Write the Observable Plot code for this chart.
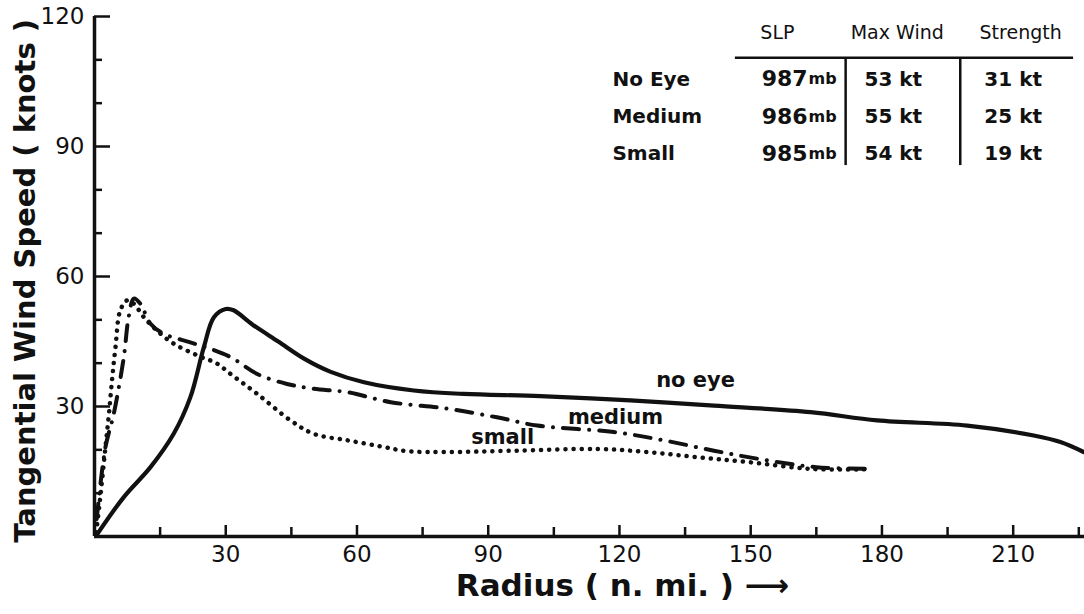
<!DOCTYPE html>
<html>
<head>
<meta charset="utf-8">
<script src="https://cdn.jsdelivr.net/npm/d3@7"></script>
<script src="https://cdn.jsdelivr.net/npm/@observablehq/plot@0.6"></script>
<style>
  html, body { margin: 0; padding: 0; background: #fff; }
  #chart svg { display: block; font-family: "DejaVu Sans", sans-serif; }
</style>
</head>
<body>
<div id="chart"></div>
<script>
// ---- Data ----
const noEyeRadius = [0.6, 6.7, 12.8, 18.1, 21.9, 25, 27.3, 30, 31.8, 36, 42, 48, 54, 61.6, 73, 84.4, 101.9, 122.5, 141.6, 163.7, 178.9, 199.5, 214.7, 220.8, 226.1];
const noEyeWind   = [0.5, 9.1, 16, 23.7, 32.1, 43.7, 50.6, 52.5, 52.2, 49, 45, 41, 38, 35.6, 33.7, 32.9, 32.4, 31.4, 30.2, 28.7, 26.8, 25.6, 23.3, 21.8, 19.5];

const mediumRadius = [0.5, 2.5, 4.4, 6.7, 7.8, 9, 10.5, 12.8, 15.8, 21.9, 26.5, 31.1, 37.2, 44, 50.1, 57.8, 67.7, 80.6, 92, 101.2, 118.7, 130.1, 141.6, 153, 165, 178];
const mediumWind   = [4, 20.6, 28.3, 41.4, 50.6, 54.9, 53.7, 49.1, 46.8, 44.8, 43.3, 41.4, 37.5, 35.2, 34.1, 33.3, 31, 29.5, 27.5, 25.6, 24.1, 22.2, 19.8, 17.7, 16, 15.6];

const smallRadius = [0.4, 1.4, 2.5, 3.3, 4, 4.8, 5.9, 7.5, 9, 11.3, 14.3, 18.1, 23.5, 28, 31.1, 37.2, 44.8, 50.1, 57.8, 65.4, 71.5, 80.6, 95.9, 114.9, 126.3, 137.8, 149.2, 163.7, 176];
const smallWind   = [1, 9.8, 20.6, 28.3, 36, 43.7, 52.2, 54.5, 53.7, 50.6, 47.5, 44.5, 41.8, 39.9, 37.5, 32.9, 26.8, 23.7, 22.2, 20.8, 19.7, 19.5, 19.8, 20.2, 19.5, 18.3, 17.2, 15.6, 15.5];

const curveLabels = ["no eye", "medium", "small"];

const xMajorTicks = [30, 60, 90, 120, 150, 180, 210];
const xMinorTicks = [15, 45, 75, 105, 135, 165, 195, 225];
const yMajorTicks = [30, 60, 90, 120];
const yMinorTicks = [10, 20, 40, 50, 70, 80, 100, 110];

const tableHeaders = ["SLP", "Max Wind", "Strength"];
const tableRows = ["No Eye", "Medium", "Small"];
const slpValues = [987, 986, 985];
const maxWindValues = [53, 55, 54];
const strengthValues = [31, 25, 19];

const xTitle = "Radius ( n. mi. ) \u27F6";
const yTitle = "Tangential Wind Speed ( knots )";

// ---- Build tables ----
const toRows = (r, v) => r.map((x, i) => ({r: x, v: v[i]}));
const noEye = toRows(noEyeRadius, noEyeWind);
const medium = toRows(mediumRadius, mediumWind);
const small = toRows(smallRadius, smallWind);

const rowY = (i) => 105.5 - i * 8.6;
const tableFont = {fontSize: 20, fontWeight: 600, fill: "#111"};

const chart = Plot.plot({
  width: 1084,
  height: 614,
  marginLeft: 94,
  marginRight: 0,
  marginTop: 16,
  marginBottom: 78,
  x: {domain: [0, 226.3]},
  y: {domain: [0, 120]},
  style: {background: "#fff", color: "#111"},
  marks: [
    // axes lines
    Plot.ruleY([0], {strokeWidth: 3.5, stroke: "#111"}),
    Plot.ruleX([0], {y1: 0, y2: 120, strokeWidth: 3.5, stroke: "#111"}),
    // inward ticks
    Plot.axisX(xMajorTicks, {tickSize: -11, fill: "none", label: null, strokeWidth: 2.5}),
    Plot.axisX(xMinorTicks, {tickSize: -9, fill: "none", label: null, strokeWidth: 2.5}),
    Plot.axisY(yMajorTicks, {tickSize: -16, fill: "none", label: null, strokeWidth: 2.5}),
    Plot.axisY(yMinorTicks, {tickSize: -8, fill: "none", label: null, strokeWidth: 2.5}),
    // tick labels
    Plot.axisX(xMajorTicks, {tickSize: 0, tickPadding: 9, fontSize: 23, fontWeight: 500, label: null, tickFormat: d => d}),
    Plot.axisY(yMajorTicks, {tickSize: 0, tickPadding: 10, fontSize: 23, fontWeight: 500, label: null, tickFormat: d => d}),
    // axis titles
    Plot.text([xTitle], {frameAnchor: "bottom", x: 120.7, dy: 59, text: d => d, textAnchor: "middle", fontSize: 31, fontWeight: "bold", fill: "#111"}),
    Plot.text([yTitle], {frameAnchor: "left", y: 59, dx: -69, rotate: -90, text: d => d, textAnchor: "middle", fontSize: 29, fontWeight: "bold", fill: "#111"}),
    // curves
    Plot.line(noEye, {x: "r", y: "v", curve: "catmull-rom", stroke: "#111", strokeWidth: 4.2, strokeLinecap: "round", strokeLinejoin: "round"}),
    Plot.line(medium, {x: "r", y: "v", curve: "catmull-rom", stroke: "#111", strokeWidth: 4, strokeDasharray: "16 10 0.1 10", strokeLinecap: "round"}),
    Plot.line(small, {x: "r", y: "v", curve: "catmull-rom", stroke: "#111", strokeWidth: 4.5, strokeDasharray: "0.1 8", strokeLinecap: "round"}),
    // curve labels
    Plot.text(curveLabels, {
      x: (d, i) => [137.4, 119.1, 93.3][i],
      y: (d, i) => [36, 27.5, 22.8][i],
      text: d => d, fontSize: 21, fontWeight: "bold", fill: "#111"
    }),
    // summary table
    Plot.text(tableHeaders, {x: (d, i) => [156.1, 183.5, 211.7][i], y: 116.1, text: d => d, fontSize: 19, fontWeight: 500, fill: "#111"}),
    Plot.ruleY([110.5], {x1: 146.5, x2: 223.8, strokeWidth: 2.5, stroke: "#111"}),
    Plot.ruleX([171.7, 197.9], {y1: 85.6, y2: 110.5, strokeWidth: 2.5, stroke: "#111"}),
    Plot.text(tableRows, {x: 118.4, y: (d, i) => rowY(i), text: d => d, textAnchor: "start", ...tableFont}),
    Plot.text(slpValues, {x: 163, y: (d, i) => rowY(i), text: d => String(d), textAnchor: "end", ...tableFont, fontSize: 22}),
    Plot.text(slpValues, {x: 163.2, y: (d, i) => rowY(i), text: () => "mb", textAnchor: "start", ...tableFont, fontSize: 16}),
    Plot.text(maxWindValues, {x: 182.6, y: (d, i) => rowY(i), text: d => `${d} kt`, ...tableFont}),
    Plot.text(strengthValues, {x: 210, y: (d, i) => rowY(i), text: d => `${d} kt`, ...tableFont})
  ]
});

document.getElementById("chart").append(chart);
</script>
</body>
</html>
